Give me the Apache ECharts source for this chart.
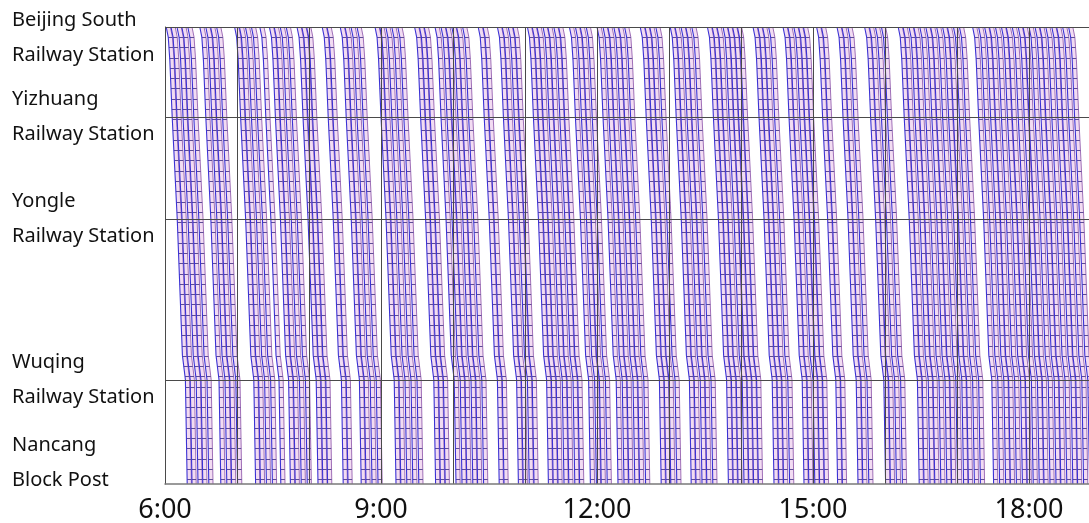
<!DOCTYPE html>
<html>
<head>
<meta charset="utf-8">
<script src="https://cdn.jsdelivr.net/npm/echarts/dist/echarts.min.js"></script>
<style>
  html, body { margin: 0; padding: 0; background: #fff; }
  #main { width: 1089px; height: 523px; }
</style>
</head>
<body>
<div id="main"></div>
<script>
// stations along the line (km from Beijing South)
var stationNames = ['Beijing South\nRailway Station', 'Yizhuang\nRailway Station', 'Yongle\nRailway Station', 'Wuqing\nRailway Station', 'Nancang\nBlock Post'];
var stationKm = [0, 19.7, 42.0, 77.2, 100];
var labelKm = [2.3, 19.7, 42.0, 77.2, 95.4];   // where the name is written
var timeTicks = ['6:00', '9:00', '12:00', '15:00', '18:00'];

// running profile of a down train: km reached and minutes after leaving Beijing South
var profileKm  = [0, 2.2, 7.2, 19.7, 42.0, 71.8, 77.2, 100];
var profileMin = [0, 1.7, 3.0, 5.0, 9.2, 13.5, 16.0, 17.5];

// departures from Beijing South
var dep06 = ['6:01', '6:05', '6:10', '6:14', '6:19', '6:29', '6:34', '6:38', '6:43', '6:58'];
var dep07 = ['7:02', '7:07', '7:12', '7:19', '7:27', '7:31', '7:36', '7:41', '7:50', '7:54', '7:58'];
var dep08 = ['8:11', '8:15', '8:26', '8:30', '8:35', '8:40', '8:55', '8:59'];
var dep09 = ['9:04', '9:09', '9:14', '9:28', '9:32', '9:36', '9:45', '9:50', '9:54', '9:59'];
var dep10 = ['10:03', '10:08', '10:21', '10:25', '10:37', '10:41', '10:46', '10:50'];
var dep11 = ['11:02', '11:06', '11:10', '11:15', '11:19', '11:24', '11:28', '11:37', '11:42', '11:46', '11:51'];
var dep12 = ['12:00', '12:05', '12:09', '12:14', '12:18', '12:23', '12:36', '12:40', '12:44', '12:49'];
var dep13 = ['13:01', '13:05', '13:10', '13:14', '13:19', '13:32', '13:36', '13:40', '13:45', '13:49', '13:53', '13:57'];
var dep14 = ['14:10', '14:14', '14:18', '14:23', '14:35', '14:39', '14:44', '14:48', '14:52'];
var dep15 = ['15:03', '15:07', '15:20', '15:24', '15:29', '15:43', '15:47', '15:52', '15:57'];
var dep16 = ['16:11', '16:15', '16:20', '16:24', '16:29', '16:34', '16:38', '16:43', '16:48', '16:52', '16:57'];
var dep17 = ['17:02', '17:13', '17:18', '17:23', '17:27', '17:32', '17:37', '17:41', '17:46', '17:51', '17:55'];
var dep18 = ['18:00', '18:05', '18:09', '18:14', '18:19', '18:23', '18:28', '18:33'];

var railGap = 3.5;   // minutes between the two edges of a train band
var rungStep = 2.25; // km between cross bars

function toMin(s) {
    var p = s.split(':');
    return (+p[0]) * 60 + (+p[1]);
}

function minAt(km) {
    for (var i = 1; i < profileKm.length; i++) {
        if (km <= profileKm[i]) {
            var f = (km - profileKm[i - 1]) / (profileKm[i] - profileKm[i - 1]);
            return profileMin[i - 1] + f * (profileMin[i] - profileMin[i - 1]);
        }
    }
    return profileMin[profileMin.length - 1];
}

var departures = [].concat(dep06, dep07, dep08, dep09, dep10, dep11, dep12,
    dep13, dep14, dep15, dep16, dep17, dep18).map(toMin);

var leftRails = [], rightRails = [], rungs = [];
departures.forEach(function (t0) {
    leftRails.push({ coords: profileKm.map(function (km, i) { return [t0 + profileMin[i], km]; }) });
    rightRails.push({ coords: profileKm.map(function (km, i) { return [t0 + profileMin[i] + railGap, km]; }) });
    for (var km = rungStep; km < 100; km += rungStep) {
        var t = t0 + minAt(km);
        rungs.push({ coords: [[t, km], [t + railGap, km]] });
    }
});

var stationLines = stationKm.slice(0, 4).map(function (km) {
    return { coords: [[360, km], [1130, km]] };
});

var dom = document.getElementById('main');
var myChart = echarts.init(dom);

var option = {
    animation: false,
    grid: { left: 165, right: 0, top: 27, bottom: 39, outerBoundsMode: 'none' },
    xAxis: {
        type: 'value',
        min: 360,
        max: 1130,
        interval: 60,
        z: 5,
        axisLine: { show: true, onZero: false, lineStyle: { color: '#7a7a7a', width: 1.5 } },
        axisTick: { show: false },
        splitLine: { show: true, lineStyle: { color: '#4a4a4a', width: 1 } },
        axisLabel: {
            margin: 13,
            fontSize: 27,
            color: '#111',
            fontFamily: 'Noto Sans',
            formatter: function (v) {
                if ((v - 360) % 180 !== 0) return '';
                return timeTicks[(v - 360) / 180] || '';
            }
        }
    },
    yAxis: {
        type: 'value',
        inverse: true,
        min: 0,
        max: 100,
        axisLine: { show: true, onZero: false, lineStyle: { color: '#444', width: 1 } },
        axisTick: { show: false },
        splitLine: { show: false },
        axisLabel: {
            customValues: labelKm,
            align: 'left',
            margin: 153,
            fontSize: 20,
            lineHeight: 35,
            color: '#111',
            fontFamily: 'Noto Sans',
            formatter: function (v) {
                var i = labelKm.indexOf(v);
                return i < 0 ? '' : stationNames[i];
            }
        }
    },
    series: [
        {
            // light fill inside each train band
            type: 'custom',
            silent: true,
            data: departures,
            renderItem: function (params, api) {
                var t0 = api.value(0);
                var pts = [];
                profileKm.forEach(function (km, i) { pts.push(api.coord([t0 + profileMin[i], km])); });
                for (var i = profileKm.length - 1; i >= 0; i--) {
                    pts.push(api.coord([t0 + profileMin[i] + railGap, profileKm[i]]));
                }
                return { type: 'polygon', shape: { points: pts }, style: { fill: '#f2dcf2' } };
            },
            encode: { x: 0 }
        },
        {
            type: 'lines', coordinateSystem: 'cartesian2d', polyline: true, silent: true,
            data: rightRails,
            lineStyle: { color: '#a070b8', width: 1, opacity: 1 }
        },
        {
            type: 'lines', coordinateSystem: 'cartesian2d', polyline: false, silent: true,
            data: rungs,
            lineStyle: { color: '#5c4c96', width: 1, opacity: 1 }
        },
        {
            type: 'lines', coordinateSystem: 'cartesian2d', polyline: true, silent: true,
            data: leftRails,
            lineStyle: { color: '#3b32d4', width: 1.1, opacity: 1 }
        },
        {
            type: 'lines', coordinateSystem: 'cartesian2d', polyline: false, silent: true,
            data: stationLines, z: 6,
            lineStyle: { color: '#4a4a4a', width: 1, opacity: 1 }
        }
    ]
};

myChart.setOption(option, true);
</script>
</body>
</html>
